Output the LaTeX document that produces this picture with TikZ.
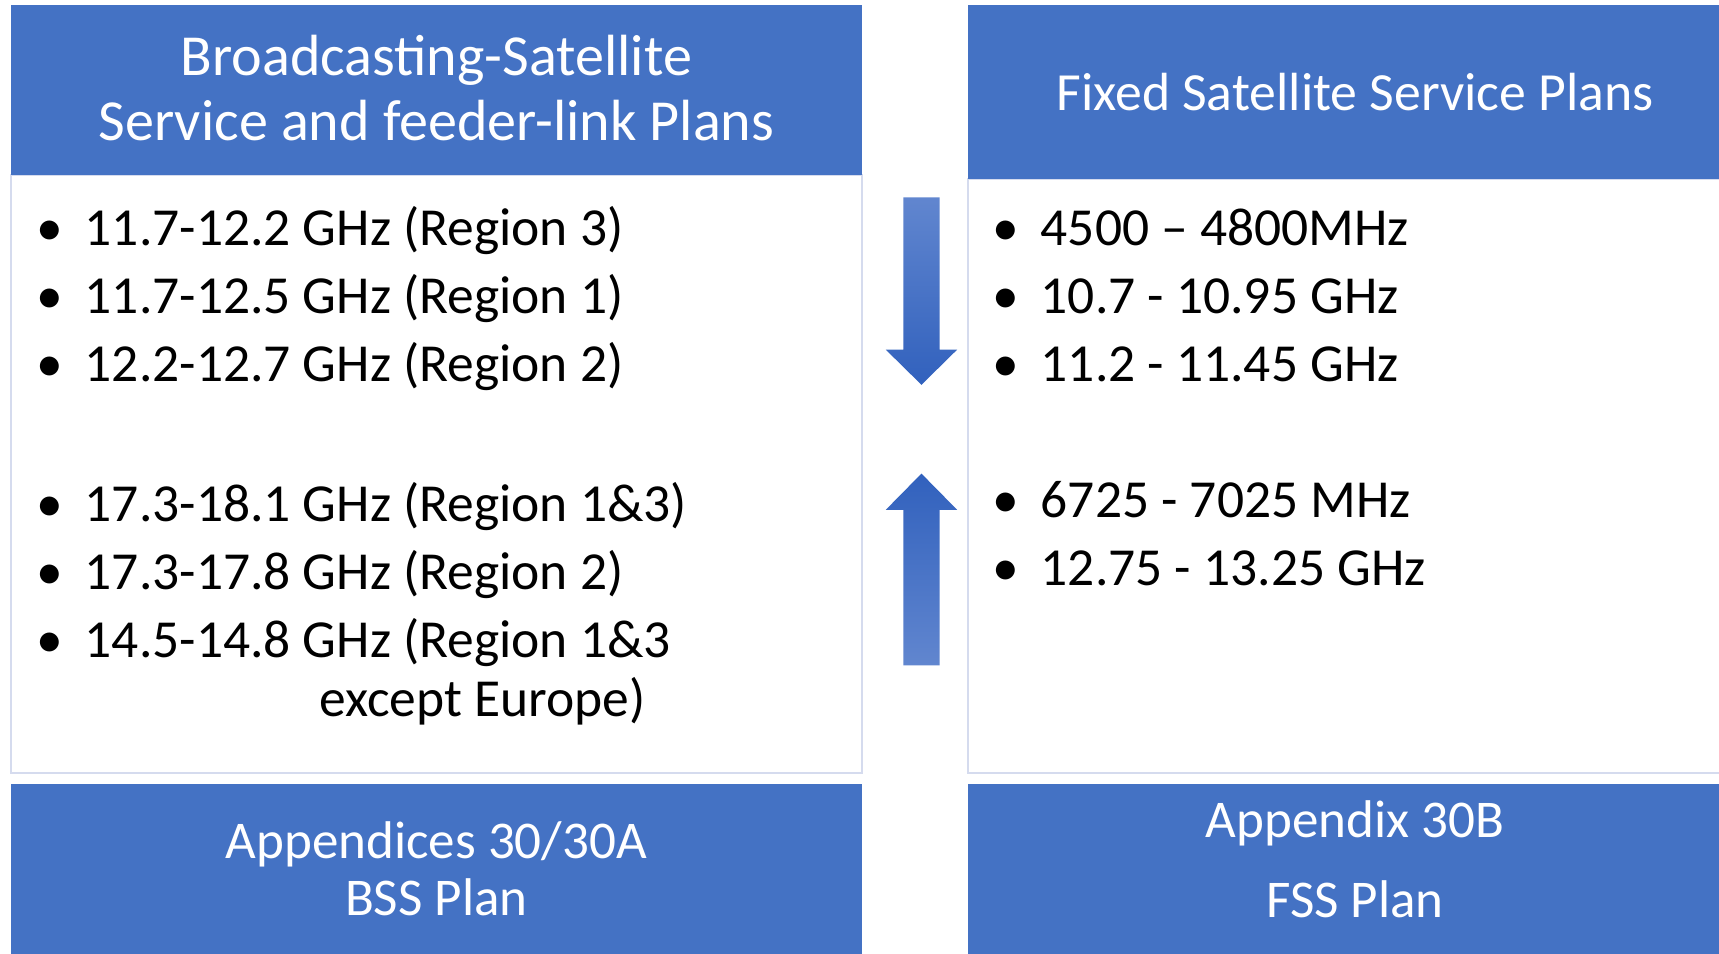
\documentclass[tikz,border=0pt]{standalone}
\usepackage{fontspec}
\setmainfont{Carlito}
\usepackage{tikz}
\definecolor{plan_blue}{HTML}{4472C4}
\definecolor{plan_edge}{HTML}{D5DBEE}
\definecolor{arrow_light}{HTML}{6186CF}
\definecolor{arrow_dark}{HTML}{3161BD}

\begin{document}
\begin{tikzpicture}[x=0.5pt, y=-0.5pt]
    \tikzstyle{head} = [fill=plan_blue, text=white, inner sep=0pt, align=center, minimum height=77.5pt];
    \tikzstyle{body} = [fill=white, draw=plan_edge, line width=1pt, inner sep=0pt];
    \tikzstyle{item} = [anchor=base west, inner sep=0pt, font=\fontsize{24.4}{30}\selectfont];
    \useasboundingbox (0,0) rectangle (1568,870);
    % bodies
    \node[body, minimum width=388pt, minimum height=272.5pt] (bssbody) at (398,432.5) {};
    \node[body, minimum width=353pt, minimum height=271pt] (fssbody) at (1236,434) {};
    % headers and footers
    \node[head, minimum width=388pt, text depth=2.5pt, font=\fontsize{26.5}{29.5}\selectfont] (bsshead) at (398,82.5) {Broadcasting-Satellite\\Service and feeder-link Plans};
    \node[head, minimum width=353pt, minimum height=79pt, font=\fontsize{24.5}{29.5}\selectfont] (fsshead) at (1236,84) {Fixed Satellite Service Plans};
    \node[head, minimum width=388pt, font=\fontsize{24.2}{26}\selectfont] (bssfoot) at (398,792.5) {Appendices 30/30A\\BSS Plan};
    \node[head, minimum width=353pt, text depth=9pt, font=\fontsize{24.2}{36.5}\selectfont] (fssfoot) at (1236,792.5) {Appendix 30B\\FSS Plan};
    % bands
    \foreach \t/\y [count=\i] in {{11.7-12.2 GHz (Region 3)}/224, {11.7-12.5 GHz (Region 1)}/286,
        {12.2-12.7 GHz (Region 2)}/348, {17.3-18.1 GHz (Region 1\&3)}/476,
        {17.3-17.8 GHz (Region 2)}/538, {14.5-14.8 GHz (Region 1\&3}/600}
    {\node[item] (bss\i) at (77,\y) {\llap{\textbullet\hspace{10pt}}\t};}
    \node[item] (bss7) at (291,654) {except Europe)};
    \foreach \t/\y [count=\i] in {{4500 – 4800MHz}/224, {10.7 - 10.95 GHz}/286,
        {11.2 - 11.45 GHz}/348, {6725 - 7025 MHz}/472, {12.75 - 13.25 GHz}/534}
    {\node[item] (fss\i) at (949,\y) {\llap{\textbullet\hspace{10pt}}\t};}
    % arrows
    \shade[top color=arrow_light, bottom color=arrow_dark] (824,180) -- (857,180) -- (857,319) -- (873,319)
        -- (840.5,351) -- (808,319) -- (824,319) -- cycle;
    \shade[top color=arrow_dark, bottom color=arrow_light] (840.5,432) -- (873,465) -- (857,465) -- (857,607)
        -- (824,607) -- (824,465) -- (808,465) -- cycle;
\end{tikzpicture}
\end{document}
